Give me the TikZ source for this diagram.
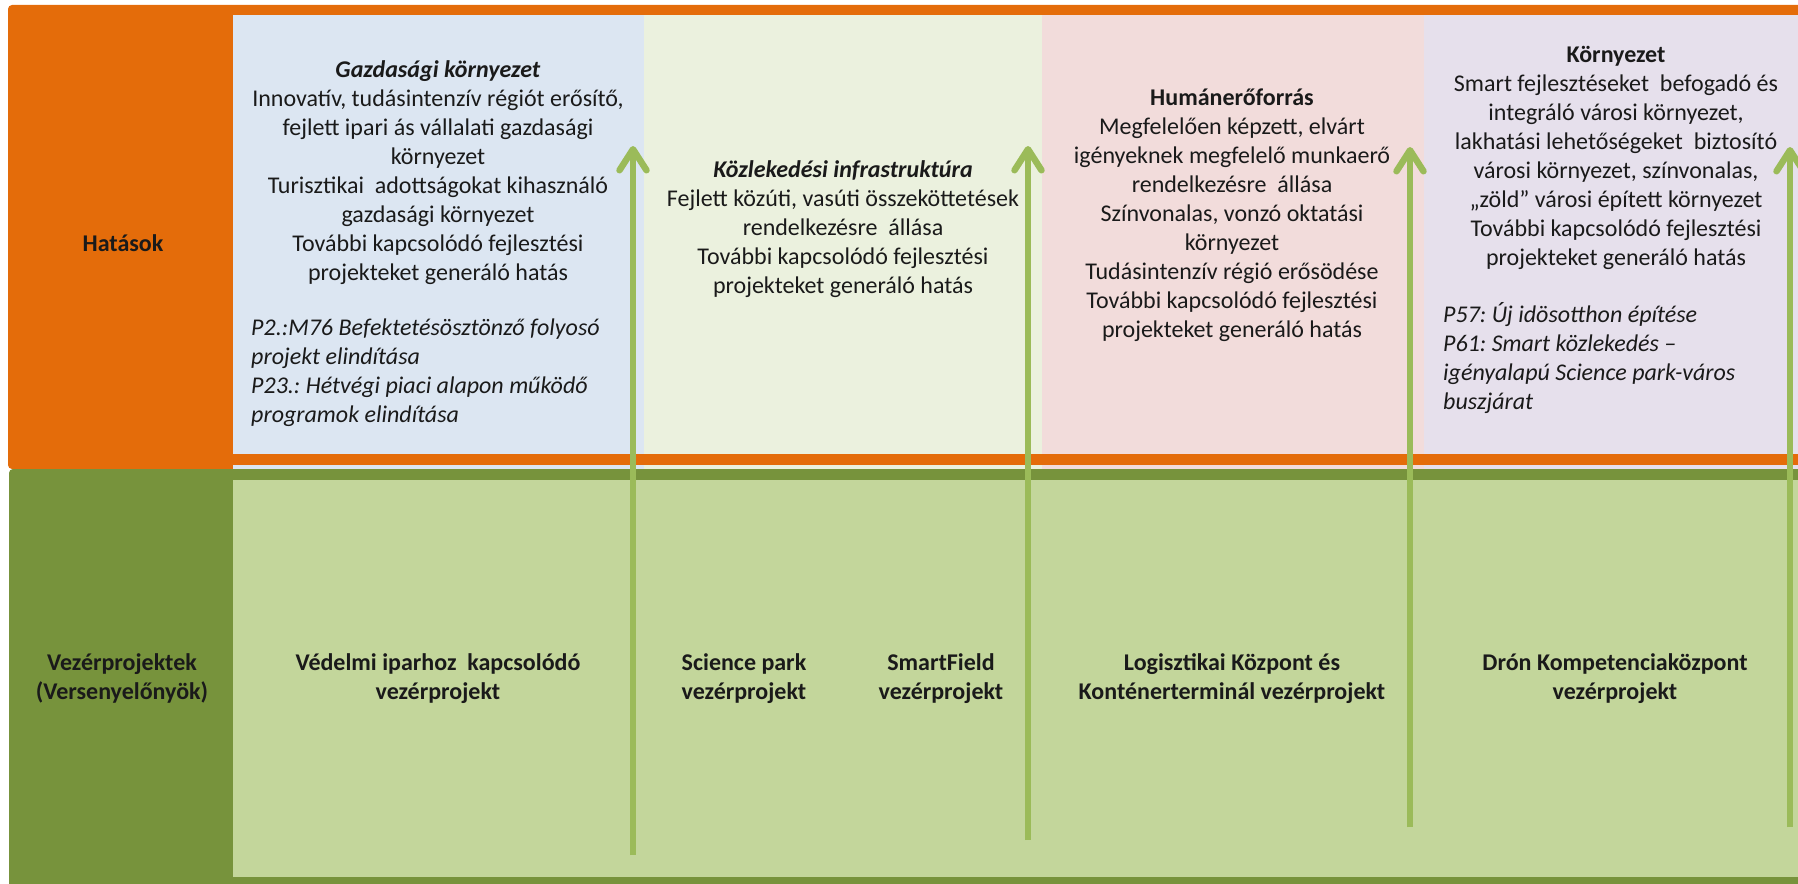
\documentclass[tikz,border=0pt]{standalone}
\usepackage{fontspec}
\setmainfont{Carlito}
\usetikzlibrary{arrows.meta}
\frenchspacing
\definecolor{hatorange}{HTML}{E46C0A}
\definecolor{vezgreen}{HTML}{77933C}
\definecolor{lightgreen}{HTML}{C3D69B}
\definecolor{pblue}{HTML}{DCE6F2}
\definecolor{pgreen}{HTML}{EBF1DE}
\definecolor{ppink}{HTML}{F2DCDB}
\definecolor{plav}{HTML}{E6E0EC}
\definecolor{arrowgreen}{HTML}{9BBB59}
\definecolor{txt}{HTML}{1A1A1A}
\tikzset{
  body/.style={inner sep=0pt, text=txt, font=\fontsize{24}{29}\selectfont\frenchspacing},
  centerblock/.style={body, align=center, anchor=north},
  leftblock/.style={body, align=left, anchor=north west, font=\fontsize{24}{29}\selectfont\itshape\frenchspacing},
  boldblock/.style={centerblock, font=\fontsize{24}{29}\selectfont\bfseries},
  uparrow/.style={draw=arrowgreen, line width=6.5pt, -{Straight Barb[length=21pt,width=27pt,round]}},
}
\begin{document}
\begin{tikzpicture}[x=1pt,y=-1pt]
\useasboundingbox (0,0) rectangle (1798,883);
% upper band
\fill[hatorange, rounded corners=4pt] (8,5) rectangle (1812,469);
\fill[pblue] (233,15) rectangle (644,469);
\fill[pgreen] (644,15) rectangle (1042,469);
\fill[ppink] (1042,15) rectangle (1424,469);
\fill[plav] (1424,15) rectangle (1798,469);
\fill[hatorange] (233,454) rectangle (1798,465);
% lower band
\fill[vezgreen, rounded corners=4pt] (9,469) rectangle (1812,895);
\fill[lightgreen] (233,480) rectangle (1798,877);

% left labels
\node[body, font=\fontsize{24}{29}\selectfont\bfseries, anchor=base] (hat) at (123,251) {Hatások};
\node[boldblock] (vez) at (122,650) {\strut Vezérprojektek\\(Versenyelőnyök)\strut};

% upper texts
\node[centerblock] (gazd) at (438,57) {\strut\textbf{\textit{Gazdasági környezet}}\\
Innovatív, tudásintenzív régiót erősítő,\\
fejlett ipari ás vállalati gazdasági\\
környezet\\
Turisztikai\ \ adottságokat kihasználó\\
gazdasági környezet\\
További kapcsolódó fejlesztési\\
projekteket generáló hatás\strut};
\node[leftblock] (gazdp) at (251,315) {\strut P2.:M76 Befektetésösztönző folyosó\\
projekt elindítása\\
P23.: Hétvégi piaci alapon működő\\
programok elindítása\strut};

\node[centerblock] (kozl) at (843,157) {\strut\textbf{\textit{Közlekedési infrastruktúra}}\\
Fejlett közúti, vasúti összeköttetések\\
rendelkezésre\ \ állása\\
További kapcsolódó fejlesztési\\
projekteket generáló hatás\strut};

\node[centerblock] (hum) at (1232,85) {\strut\textbf{Humánerőforrás}\\
Megfelelően képzett, elvárt\\
igényeknek megfelelő munkaerő\\
rendelkezésre\ \ állása\\
Színvonalas, vonzó oktatási\\
környezet\\
Tudásintenzív régió erősödése\\
További kapcsolódó fejlesztési\\
projekteket generáló hatás\strut};

\node[centerblock] (korny) at (1616,42) {\strut\textbf{Környezet}\\
Smart fejlesztéseket\ \ befogadó és\\
integráló városi környezet,\\
lakhatási lehetőségeket\ \ biztosító\\
városi környezet, színvonalas,\\
„zöld” városi épített környezet\\
További kapcsolódó fejlesztési\\
projekteket generáló hatás\strut};
\node[leftblock] (kornyp) at (1443,302) {\strut P57: Új idösotthon építése\\
P61: Smart közlekedés –\\
igényalapú Science park-város\\
buszjárat\strut};

% lower texts
\node[boldblock] (vedelmi) at (438,650) {\strut Védelmi iparhoz\ \ kapcsolódó\\vezérprojekt\strut};
\node[boldblock] (science) at (744,650) {\strut Science park\\vezérprojekt\strut};
\node[boldblock] (smart) at (941,650) {\strut SmartField\\vezérprojekt\strut};
\node[boldblock] (logi) at (1232,650) {\strut Logisztikai Központ és\\Konténerterminál vezérprojekt\strut};
\node[boldblock] (dron) at (1615,650) {\strut Drón Kompetenciaközpont\\vezérprojekt\strut};

% arrows
\coordinate (a1s) at (633,855); \coordinate (a1e) at (633,146);
\coordinate (a2s) at (1028,840); \coordinate (a2e) at (1028,146);
\coordinate (a3s) at (1410,827); \coordinate (a3e) at (1410,147);
\coordinate (a4s) at (1790,827); \coordinate (a4e) at (1790,147);
\draw[uparrow] (a1s) -- (a1e);
\draw[uparrow] (a2s) -- (a2e);
\draw[uparrow] (a3s) -- (a3e);
\draw[uparrow] (a4s) -- (a4e);
\end{tikzpicture}
\end{document}
